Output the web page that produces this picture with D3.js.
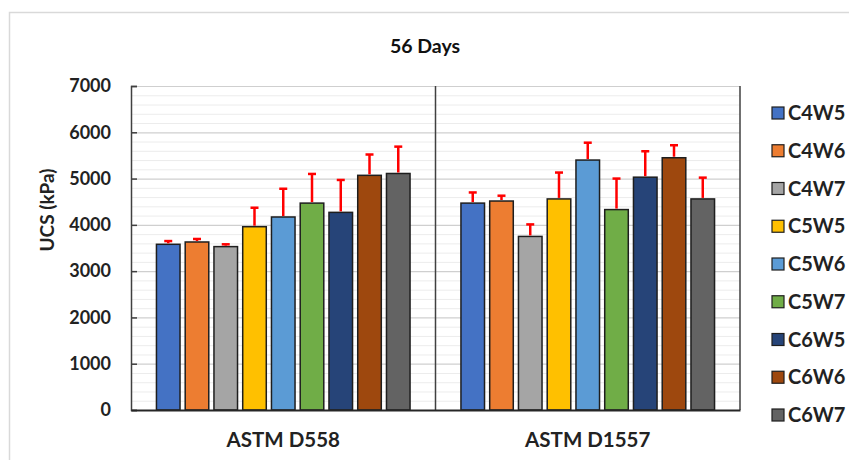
<!DOCTYPE html>
<html>
<head>
<meta charset="utf-8">
<script src="https://cdn.jsdelivr.net/npm/d3@7"></script>
<style>
  body { margin: 0; background: #fff; }
  svg { display: block; font-family: Lato, "Open Sans", sans-serif; font-weight: bold; }
</style>
</head>
<body>
<svg id="chart" width="849" height="460"></svg>
<script>
// ---- data ----
const categories = ["ASTM D558", "ASTM D1557"];
const series = ["C4W5", "C4W6", "C4W7", "C5W5", "C5W6", "C5W7", "C6W5", "C6W6", "C6W7"];
const colors = ["#4472C4", "#ED7D31", "#A5A5A5", "#FFC000", "#5B9BD5", "#70AD47", "#264478", "#9E480E", "#636363"];
// UCS mean values (kPa), one array per category
const d558Values  = [3580, 3630, 3530, 3960, 4170, 4470, 4270, 5070, 5110];
const d1557Values = [4470, 4515, 3750, 4560, 5400, 4330, 5030, 5450, 4560];
// upper error bar length (kPa)
const d558Errors  = [70, 65, 50, 410, 610, 630, 700, 450, 580];
const d1557Errors = [230, 115, 260, 570, 375, 670, 560, 270, 460];
const yTicks = [0, 1000, 2000, 3000, 4000, 5000, 6000, 7000];

const values = [d558Values, d1557Values];
const errors = [d558Errors, d1557Errors];

const svg = d3.select("#chart");

// ---- outer frame of the chart ----
svg.append("rect")
    .attr("x", 9.5).attr("y", 12.5)
    .attr("width", 860).attr("height", 470)
    .attr("fill", "none")
    .attr("stroke", "#d9d9d9")
    .attr("stroke-width", 1.5);

const plot = {left: 131, right: 740, top: 86, bottom: 410};

const y = d3.scaleLinear().domain([0, 7000]).range([plot.bottom, plot.top]);
const x0 = d3.scaleBand().domain(categories).range([plot.left, plot.right]);
const x1 = d3.scaleBand().domain(series)
    .range([0, x0.bandwidth()])
    .paddingInner(0.18)
    .paddingOuter(0.885);
const color = d3.scaleOrdinal().domain(series).range(colors);

// ---- gridlines: minor every 200, major every 1000 ----
const minor = d3.range(200, 7001, 200).filter(v => v % 1000 !== 0);
svg.append("g").selectAll("line")
    .data(minor)
    .join("line")
    .attr("x1", plot.left).attr("x2", plot.right)
    .attr("y1", d => y(d) + 0.5).attr("y2", d => y(d) + 0.5)
    .attr("stroke", "#ececec")
    .attr("stroke-width", 1);
svg.append("g").selectAll("line")
    .data(yTicks.slice(1))
    .join("line")
    .attr("x1", plot.left).attr("x2", plot.right)
    .attr("y1", d => y(d) + 0.5).attr("y2", d => y(d) + 0.5)
    .attr("stroke", "#cfcfcf")
    .attr("stroke-width", 1.2);

// category separators and right edge
svg.append("g").selectAll("line")
    .data(categories)
    .join("line")
    .attr("x1", d => x0(d) + x0.bandwidth())
    .attr("x2", d => x0(d) + x0.bandwidth())
    .attr("y1", plot.top).attr("y2", plot.bottom)
    .attr("stroke", "#404040")
    .attr("stroke-width", 1.5);

// ---- bars ----
const groups = svg.append("g").selectAll("g")
    .data(categories)
    .join("g")
    .attr("transform", d => `translate(${x0(d)},0)`);

groups.selectAll("rect")
    .data((d, ci) => series.map((s, i) => ({s, v: values[ci][i], e: errors[ci][i]})))
    .join("rect")
    .attr("x", d => x1(d.s))
    .attr("width", x1.bandwidth())
    .attr("y", d => y(d.v))
    .attr("height", d => y(0) - y(d.v))
    .attr("fill", d => color(d.s))
    .attr("stroke", "#1e1e1e")
    .attr("stroke-width", 1.5);

// error bars (upper only, with cap)
const err = groups.selectAll("g.err")
    .data((d, ci) => series.map((s, i) => ({s, v: values[ci][i], e: errors[ci][i]})))
    .join("g")
    .classed("err", true)
    .attr("stroke", "#ff0000")
    .attr("stroke-width", 2.5);
err.append("line")
    .attr("x1", d => x1(d.s) + x1.bandwidth() / 2)
    .attr("x2", d => x1(d.s) + x1.bandwidth() / 2)
    .attr("y1", d => y(d.v) - 1)
    .attr("y2", d => y(d.v + d.e));
err.append("line")
    .attr("x1", d => x1(d.s) + x1.bandwidth() / 2 - 4)
    .attr("x2", d => x1(d.s) + x1.bandwidth() / 2 + 4)
    .attr("y1", d => y(d.v + d.e))
    .attr("y2", d => y(d.v + d.e));

// ---- axes ----
const yAxis = svg.append("g")
    .attr("transform", `translate(${plot.left},0)`)
    .call(d3.axisLeft(y).tickValues(yTicks).tickFormat(d3.format("d"))
        .tickSize(-6).tickPadding(20));
yAxis.select(".domain").attr("stroke", "#404040").attr("stroke-width", 1.5);
yAxis.selectAll(".tick line").attr("stroke", "#404040").attr("stroke-width", 1.5);
yAxis.selectAll("text")
    .attr("font-size", 18)
    .attr("font-family", "Lato, sans-serif")
    .attr("font-weight", "bold")
    .attr("fill", "#222");

const xAxis = svg.append("g")
    .attr("transform", `translate(0,${plot.bottom})`)
    .call(d3.axisBottom(x0).tickSize(0).tickPadding(22));
xAxis.select(".domain").attr("stroke", "#262626").attr("stroke-width", 2);
xAxis.selectAll("text")
    .attr("font-size", 20.5)
    .attr("font-family", "Lato, sans-serif")
    .attr("font-weight", "bold")
    .attr("fill", "#222");

// ---- titles ----
svg.append("text")
    .attr("x", 425).attr("y", 53)
    .attr("text-anchor", "middle")
    .attr("font-size", 19.5)
    .attr("fill", "#111")
    .text("56 Days");

svg.append("text")
    .attr("transform", "translate(54,210) rotate(-90)")
    .attr("text-anchor", "middle")
    .attr("font-size", 19)
    .attr("fill", "#222")
    .text("UCS (kPa)");

// ---- legend ----
const legend = svg.append("g").selectAll("g")
    .data(series)
    .join("g")
    .attr("transform", (d, i) => `translate(772,${113 + i * 37.75})`);
legend.append("rect")
    .attr("x", 0).attr("y", -6)
    .attr("width", 12).attr("height", 12)
    .attr("fill", d => color(d))
    .attr("stroke", "#1e1e1e")
    .attr("stroke-width", 1.2);
legend.append("text")
    .attr("x", 16).attr("y", 0)
    .attr("dy", "0.36em")
    .attr("font-size", 20)
    .attr("fill", "#222")
    .text(d => d);
</script>
</body>
</html>
